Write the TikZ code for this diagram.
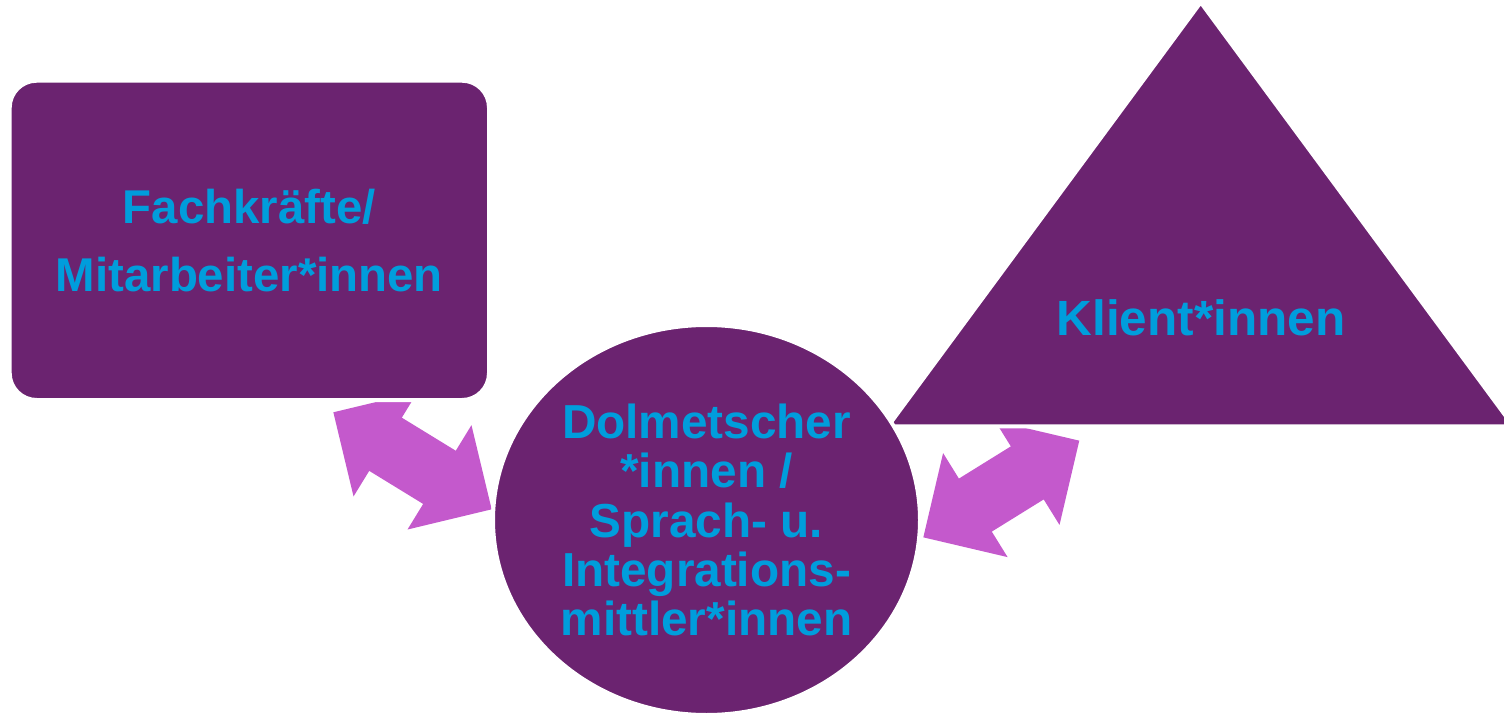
\documentclass[tikz,border=0pt]{standalone}
\usepackage{fontspec}
\setmainfont{Liberation Sans}
\usetikzlibrary{shapes.geometric,shapes.arrows,positioning}
\definecolor{lila}{RGB}{107,35,112}
\definecolor{textblau}{RGB}{0,157,220}
\definecolor{pfeil}{RGB}{196,89,204}

\begin{document}
\begin{tikzpicture}[x=1pt, y=-1pt,
    form/.style={fill=lila, draw=white, line width=4pt, inner sep=0pt},
    schrift/.style={text=textblau, align=center, inner sep=0pt},
    doppelpfeil/.style={double arrow, fill=pfeil, inner xsep=0pt, inner ysep=31pt,
      double arrow head extend=30pt, double arrow tip angle=90}]
    \useasboundingbox (0,0) rectangle (1504,714);

    % Pfeile
    \node[doppelpfeil, minimum height=185.7pt, rotate=-31.5] (pfeillinks) at (412.5,460.8) {};
    \node[doppelpfeil, minimum height=183.5pt, rotate=31.8] (pfeilrechts) at (1001.3,489) {};

    % Dreieck
    \coordinate (spitze) at (1200.7,2.3);
    \coordinate (linksunten) at (888,426.3);
    \coordinate (rechtsunten) at (1513.4,426.3);
    \filldraw[fill=lila, draw=white, line width=4pt] (spitze) -- (linksunten) -- (rechtsunten) -- cycle;
    \node[schrift, font=\bfseries\fontsize{49.5}{50}\selectfont] (klient) at (1201,318.3) {Klient*innen};

    % Rechteck
    \node[form, schrift, rounded corners=27pt, minimum width=479.3pt, minimum height=319.3pt,
      font=\bfseries\fontsize{47.4}{67.6}\selectfont] (fach) at (249.35,240.35)
      {Fachkräfte/\\Mitarbeiter*innen};

    % Kreis
    \node[form, schrift, ellipse, minimum width=427pt, minimum height=390pt,
      font=\bfseries\fontsize{47.7}{49.1}\selectfont] (dolm) at (706.5,520)
      {Dolmetscher\\*innen /\\Sprach- u.\\Integrations-\\mittler*innen};
\end{tikzpicture}
\end{document}
